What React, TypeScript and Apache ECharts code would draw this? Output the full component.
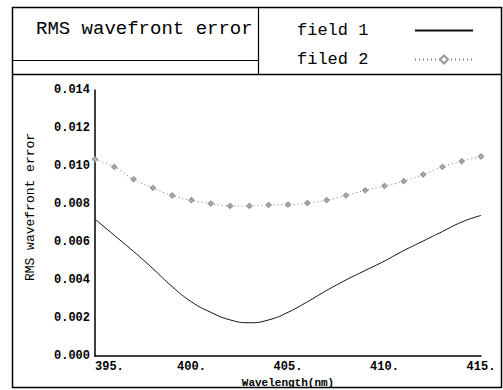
import React, { useEffect, useRef } from 'react';
import * as echarts from 'echarts';

const wavelengths = [395, 396, 397, 398, 399, 400, 401, 402, 403, 404, 405, 406, 407, 408, 409, 410, 411, 412, 413, 414, 415];
const field1 = [0.0072, 0.00635, 0.0055, 0.0046, 0.00365, 0.00285, 0.0023, 0.0019, 0.00175, 0.0019, 0.0023, 0.00285, 0.00345, 0.004, 0.0045, 0.005, 0.00555, 0.00605, 0.00655, 0.00705, 0.0074];
const field2 = [0.01035, 0.00995, 0.0093, 0.00885, 0.00845, 0.0082, 0.00802, 0.0079, 0.0079, 0.00795, 0.00797, 0.00805, 0.0082, 0.00845, 0.00872, 0.00895, 0.0092, 0.00955, 0.00995, 0.01025, 0.0105];
const seriesNames = ['field 1', 'filed 2'];
const chartTitle = 'RMS wavefront error';
const xAxisTitle = 'Wavelength(nm)';
const yAxisTitle = 'RMS wavefront error';

const MONO = '"Liberation Mono", "DejaVu Sans Mono", monospace';

export default function App() {
  const ref = useRef<HTMLDivElement>(null);
  useEffect(() => {
    const chart = echarts.init(ref.current!, null, { renderer: 'svg' });
    chart.setOption({
      animation: false,
      backgroundColor: '#fff',
      grid: { left: 95, top: 90, right: 22, bottom: 34, containLabel: false, outerBoundsMode: 'none' },
      legend: {
        data: [
          { name: seriesNames[0], itemStyle: { opacity: 0 } },
          { name: seriesNames[1] },
        ],
        orient: 'vertical',
        left: 297,
        top: 22,
        padding: 0,
        align: 'right',
        itemWidth: 58,
        itemHeight: 10,
        itemGap: 12,
        formatter: (name: string) => `{a|${name}}`,
        textStyle: {
          fontFamily: MONO,
          fontSize: 17,
          color: '#000',
          rich: { a: { width: 113, align: 'left', fontFamily: MONO, fontSize: 17, color: '#000' } },
        },
      },
      xAxis: {
        type: 'value',
        min: 395,
        max: 415,
        interval: 5,
        name: xAxisTitle,
        nameLocation: 'middle',
        nameGap: 18,
        nameTextStyle: { fontFamily: MONO, fontSize: 11, fontWeight: 'bold', color: '#000' },
        axisLine: { lineStyle: { color: '#000', width: 1.5 } },
        axisTick: { show: false },
        splitLine: { show: false },
        axisLabel: {
          formatter: (v: number) => `${v}.`,
          fontFamily: MONO,
          fontSize: 12,
          fontWeight: 'bold',
          color: '#000',
          margin: 5,
          alignMinLabel: 'left',
        },
      },
      yAxis: {
        type: 'value',
        min: 0,
        max: 0.014,
        interval: 0.002,
        name: yAxisTitle,
        nameLocation: 'middle',
        nameGap: 58,
        nameTextStyle: { fontFamily: MONO, fontSize: 13, color: '#000', padding: [0, 0, 0, 32] },
        axisLine: { show: true, lineStyle: { color: '#000', width: 1.5 } },
        axisTick: { show: false },
        splitLine: { show: false },
        axisLabel: {
          formatter: (v: number) => v.toFixed(3),
          fontFamily: MONO,
          fontSize: 12,
          fontWeight: 'bold',
          color: '#000',
          margin: 5,
        },
      },
      series: [
        {
          name: seriesNames[0],
          type: 'line',
          data: wavelengths.map((w, i) => [w, field1[i]]),
          smooth: true,
          symbol: 'none',
          lineStyle: { color: '#111', width: 1 },
          itemStyle: { color: '#111' },
        },
        {
          name: seriesNames[1],
          type: 'line',
          data: wavelengths.map((w, i) => [w, field2[i]]),
          smooth: true,
          symbol: 'emptyDiamond',
          symbolSize: 4,
          lineStyle: { color: '#777', width: 1, type: [1, 3] },
          itemStyle: { color: '#999', borderWidth: 0.8 },
        },
      ],
      graphic: [
        { type: 'rect', shape: { x: 12.5, y: 7.5, width: 489, height: 380 }, style: { fill: 'none', stroke: '#000', lineWidth: 1.5 }, silent: true },
        { type: 'line', shape: { x1: 12, y1: 74.5, x2: 501, y2: 74.5 }, style: { stroke: '#000', lineWidth: 1.3 }, silent: true },
        { type: 'line', shape: { x1: 258.5, y1: 7, x2: 258.5, y2: 74 }, style: { stroke: '#000', lineWidth: 1.2 }, silent: true },
        { type: 'line', shape: { x1: 12, y1: 60.5, x2: 258, y2: 60.5 }, style: { stroke: '#000', lineWidth: 1.2 }, silent: true },
        {
          type: 'text',
          x: 36,
          y: 29,
          style: { text: chartTitle, font: `19px ${MONO}`, fill: '#000', verticalAlign: 'middle' },
          silent: true,
        },
      ],
    });
    return () => chart.dispose();
  }, []);
  return <div ref={ref} style={{ position: 'absolute', left: 0, top: 0, width: 503, height: 390 }} />;
}
